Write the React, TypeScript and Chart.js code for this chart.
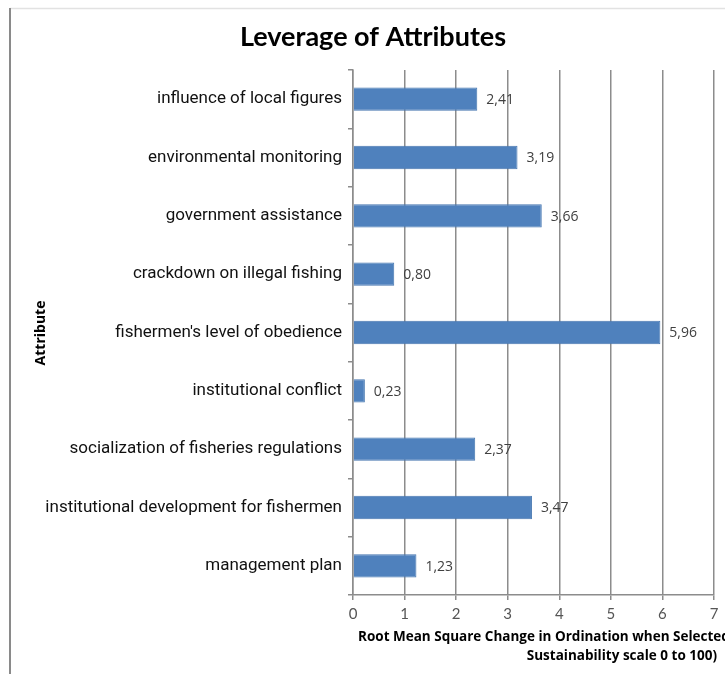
import React, { useEffect, useRef } from "react";
import { Chart, registerables } from "chart.js";

Chart.register(...registerables);

const attributes = [
  "influence of local figures",
  "environmental monitoring",
  "government assistance",
  "crackdown on illegal fishing",
  "fishermen's level of obedience",
  "institutional conflict",
  "socialization of fisheries regulations",
  "institutional development for fishermen",
  "management plan",
];

const leverageValues = [2.41, 3.19, 3.66, 0.8, 5.96, 0.23, 2.37, 3.47, 1.23];

const xTicks = [0, 1, 2, 3, 4, 5, 6, 7];

const chartTitle = "Leverage of Attributes";
const yAxisTitle = "Attribute";
const xAxisTitleLines = [
  "Root Mean Square Change in Ordination when Selected Attribute Removed (on",
  "Sustainability scale 0 to 100)",
];

const W = 725;
const H = 674;

const decorPlugin = {
  id: "decor",
  beforeDraw(chart: any) {
    const ctx = chart.ctx;
    ctx.save();
    ctx.fillStyle = "#ffffff";
    ctx.fillRect(0, 0, chart.width, chart.height);
    // frame edges
    ctx.strokeStyle = "#e2e2e2";
    ctx.lineWidth = 1.5;
    ctx.beginPath();
    ctx.moveTo(10, 8.5);
    ctx.lineTo(chart.width, 8.5);
    ctx.stroke();
    ctx.strokeStyle = "#8a8a8a";
    ctx.lineWidth = 2;
    ctx.beginPath();
    ctx.moveTo(10, 8);
    ctx.lineTo(10, chart.height);
    ctx.stroke();
    ctx.restore();
  },
  afterDraw(chart: any) {
    const ctx = chart.ctx;
    ctx.save();
    // title
    ctx.fillStyle = "#000000";
    ctx.font = "bold 27px Lato, 'Open Sans', sans-serif";
    ctx.textAlign = "center";
    ctx.textBaseline = "middle";
    ctx.fillText(chartTitle, 373, 37);

    // y axis title
    ctx.save();
    ctx.translate(41, 333);
    ctx.rotate(-Math.PI / 2);
    ctx.font = "bold 14px 'Open Sans', sans-serif";
    ctx.textAlign = "center";
    ctx.fillText(yAxisTitle, 0, 0);
    ctx.restore();

    // x axis title
    ctx.font = "bold 13.5px 'Open Sans', sans-serif";
    ctx.textBaseline = "middle";
    ctx.textAlign = "left";
    ctx.fillText(xAxisTitleLines[0], 358, 637);
    ctx.textAlign = "right";
    ctx.fillText(xAxisTitleLines[1], 717, 656);

    // value labels
    const meta = chart.getDatasetMeta(0);
    ctx.font = "14px 'Open Sans', sans-serif";
    ctx.fillStyle = "#404040";
    ctx.textAlign = "left";
    meta.data.forEach((bar: any, i: number) => {
      const txt = leverageValues[i].toFixed(2).replace(".", ",");
      ctx.fillText(txt, bar.x + 9, bar.y + 1);
    });
    ctx.restore();
  },
};

export default function App() {
  const ref = useRef<HTMLCanvasElement | null>(null);

  useEffect(() => {
    if (!ref.current) return;
    const chart = new Chart(ref.current, {
      type: "bar",
      data: {
        labels: attributes,
        datasets: [
          {
            data: leverageValues,
            backgroundColor: "#4f81bd",
            borderColor: "#4576b0",
            borderWidth: 1,
            barPercentage: 0.4,
            categoryPercentage: 1,
          },
        ],
      },
      plugins: [decorPlugin],
      options: {
        indexAxis: "y",
        animation: false,
        responsive: false,
        layout: { padding: { top: 70, right: 11, left: 0, bottom: 0 } },
        plugins: {
          legend: { display: false },
          title: { display: false },
          tooltip: { enabled: false },
        },
        scales: {
          x: {
            min: 0,
            max: 7,
            afterFit(scale: any) {
              scale.height = 79;
            },
            afterBuildTicks(scale: any) {
              scale.ticks = xTicks.map((v) => ({ value: v }));
            },
            grid: {
              color: "#8c8c8c",
              lineWidth: 1.5,
              tickLength: 5,
              drawTicks: true,
            },
            border: { color: "#8c8c8c", width: 1.5 },
            ticks: {
              color: "#555555",
              padding: 5,
              font: { family: "Lato, 'Open Sans', sans-serif", size: 15 },
            },
          },
          y: {
            afterFit(scale: any) {
              scale.width = 353;
            },
            grid: {
              display: true,
              drawOnChartArea: false,
              drawTicks: true,
              tickLength: 5,
              offset: true,
              color: "#8c8c8c",
              lineWidth: 1.5,
            },
            border: { color: "#8c8c8c", width: 1.5 },
            ticks: {
              color: "#111111",
              padding: 6,
              font: { family: "Roboto, sans-serif", size: 17 },
            },
          },
        },
      },
    });
    return () => chart.destroy();
  }, []);

  return (
    <div style={{ position: "fixed", left: 0, top: 0, width: W, height: H, background: "#fff" }}>
      <canvas ref={ref} width={W} height={H} style={{ display: "block" }} />
    </div>
  );
}
